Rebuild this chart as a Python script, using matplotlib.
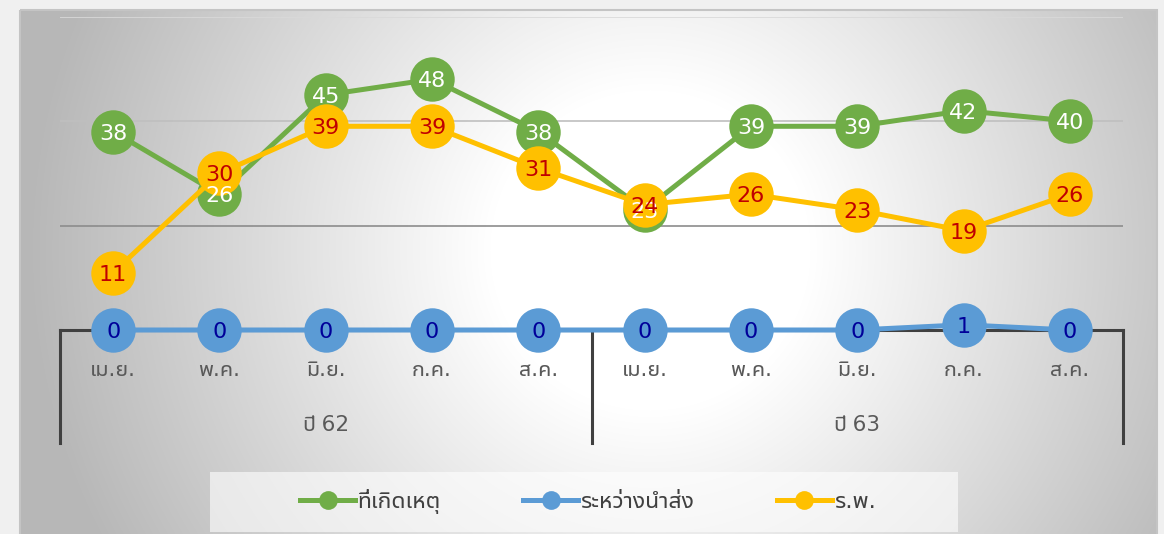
import numpy as np
import matplotlib
matplotlib.use("Agg")
import matplotlib.pyplot as plt
from matplotlib import font_manager
from matplotlib.lines import Line2D
from matplotlib.patches import Rectangle
import matplotlib.transforms as mtransforms


months = ["เม.ย.", "พ.ค.", "มิ.ย.", "ก.ค.", "ส.ค.", "เม.ย.", "พ.ค.", "มิ.ย.", "ก.ค.", "ส.ค."]
years = ["ปี 62", "ปี 63"]
year_span = [5, 5]
series_names = ["ที่เกิดเหตุ", "ระหว่างนำส่ง", "ร.พ."]
at_scene = [38, 26, 45, 48, 38, 23, 39, 39, 42, 40]
in_transit = [0, 0, 0, 0, 0, 0, 0, 0, 1, 0]
at_hospital = [11, 30, 39, 39, 31, 24, 26, 23, 19, 26]

line_colors = ["#70ad47", "#5b9bd5", "#ffc000"]
label_colors = ["white", "#000099", "#c00000"]


# หา font ที่มีตัวอักษรไทย
def thai_font():
    from fontTools.ttLib import TTFont
    preferred = ["Leelawadee UI", "Tahoma", "Noto Sans Thai UI", "Noto Sans Thai",
                 "Loma", "Garuda", "Waree", "Umpush", "Sarabun", "Kinnari", "Norasi"]
    found = []
    for f in font_manager.fontManager.ttflist:
        try:
            tt = TTFont(f.fname, fontNumber=0, lazy=True)
            cmap = tt.getBestCmap() or {}
            if 0x0E01 in cmap and 0x0E48 in cmap:
                found.append(f.name)
        except Exception:
            pass
    for name in preferred:
        if name in found:
            return name
    return found[0] if found else "DejaVu Sans"


TH = thai_font()
thai_family = [TH, "DejaVu Sans"]

W, H = 1164, 534
fig = plt.figure(figsize=(W / 100, H / 100), dpi=100)
fig.patch.set_facecolor("#f2f2f2")

# พื้นหลังแบบ gradient วงกลม
bg_ax = fig.add_axes([0, 0, 1, 1], zorder=-5)
yy, xx = np.mgrid[0:H, 0:W]
r = np.hypot(xx - 650, yy - 250)
v = 1 - 0.28 * np.clip((r - 160) / 460, 0, 1)
img = np.dstack([v, v, v])
outside = (xx < 20) | (xx > 1157) | (yy < 10)
img[outside] = 0.945
bg_ax.imshow(img, extent=[0, W, H, 0], aspect="auto", interpolation="bilinear")
bg_ax.set_xlim(0, W)
bg_ax.set_ylim(H, 0)
bg_ax.axis("off")
bg_ax.add_patch(Rectangle((20, 10), 1137, 530, fill=False, edgecolor="#c4c4c4", lw=1.5))
# กล่อง legend
bg_ax.add_patch(Rectangle((210, 472), 748, 60, facecolor="white", alpha=0.6, lw=0))

# พื้นที่กราฟ (pixel)
left_px, right_px = 60, 1123
zero_px, top_px = 330, 16.6
ax = fig.add_axes([left_px / W, (H - zero_px) / H,
                   (right_px - left_px) / W, (zero_px - top_px) / H])
ax.set_facecolor("none")
ax.set_xlim(-0.5, len(months) - 0.5)
ax.set_ylim(0, 60)
for s in ["left", "right", "top"]:
    ax.spines[s].set_visible(False)
ax.spines["bottom"].set_color("#404040")
ax.spines["bottom"].set_linewidth(2.2)
ax.set_yticks([])
ax.set_xticks([])

grid_levels = [20, 40, 60]
grid_colors = ["#8c8c8c", "#bfbfbf", "#d9d9d9"]
for lvl, c in zip(grid_levels, grid_colors):
    ax.axhline(lvl, color=c, lw=1.2, zorder=1)

x = np.arange(len(months))
all_series = [at_scene, in_transit, at_hospital]
for i, (vals, col) in enumerate(zip(all_series, line_colors)):
    ax.plot(x, vals, color=col, lw=3.6, marker="o", ms=32, mew=0,
            zorder=3 + i, clip_on=False, solid_capstyle="round")

for vals, tc in zip(all_series, label_colors):
    for xi, val in zip(x, vals):
        ax.annotate(str(val), (xi, val), xytext=(0, -1.5), textcoords="offset points",
                    ha="center", va="center", fontsize=16, color=tc, zorder=10,
                    family="DejaVu Sans", annotation_clip=False)

# แกน x หลายระดับ
ax_px = zero_px - top_px
trans = mtransforms.blended_transform_factory(ax.transData, ax.transAxes)
for xi, m in zip(x, months):
    ax.text(xi, -40 / ax_px, m, transform=trans, ha="center", va="center",
            fontsize=15.5, color="#595959", family=thai_family)

start = 0
bounds = [-0.5]
for yl, n in zip(years, year_span):
    ax.text(start + (n - 1) / 2, -95 / ax_px, yl, transform=trans, ha="center",
            va="center", fontsize=15.5, color="#595959", family=thai_family)
    start += n
    bounds.append(start - 0.5)
for b in bounds:
    ax.add_line(Line2D([b, b], [0, -113 / ax_px], transform=trans, color="#404040",
                       lw=2.2, clip_on=False, zorder=2))

handles = [Line2D([], [], color=c, lw=3.6, marker="o", ms=13.5, mew=0) for c in line_colors]
fig.legend(handles, series_names, loc="center", bbox_to_anchor=(588 / W, (H - 502) / H),
           ncol=3, frameon=False, handlelength=2.4, handletextpad=0.1,
           columnspacing=3.6, prop={"family": thai_family, "size": 16.5},
           labelcolor="#404040")

fig.savefig("out.png", dpi=100)
